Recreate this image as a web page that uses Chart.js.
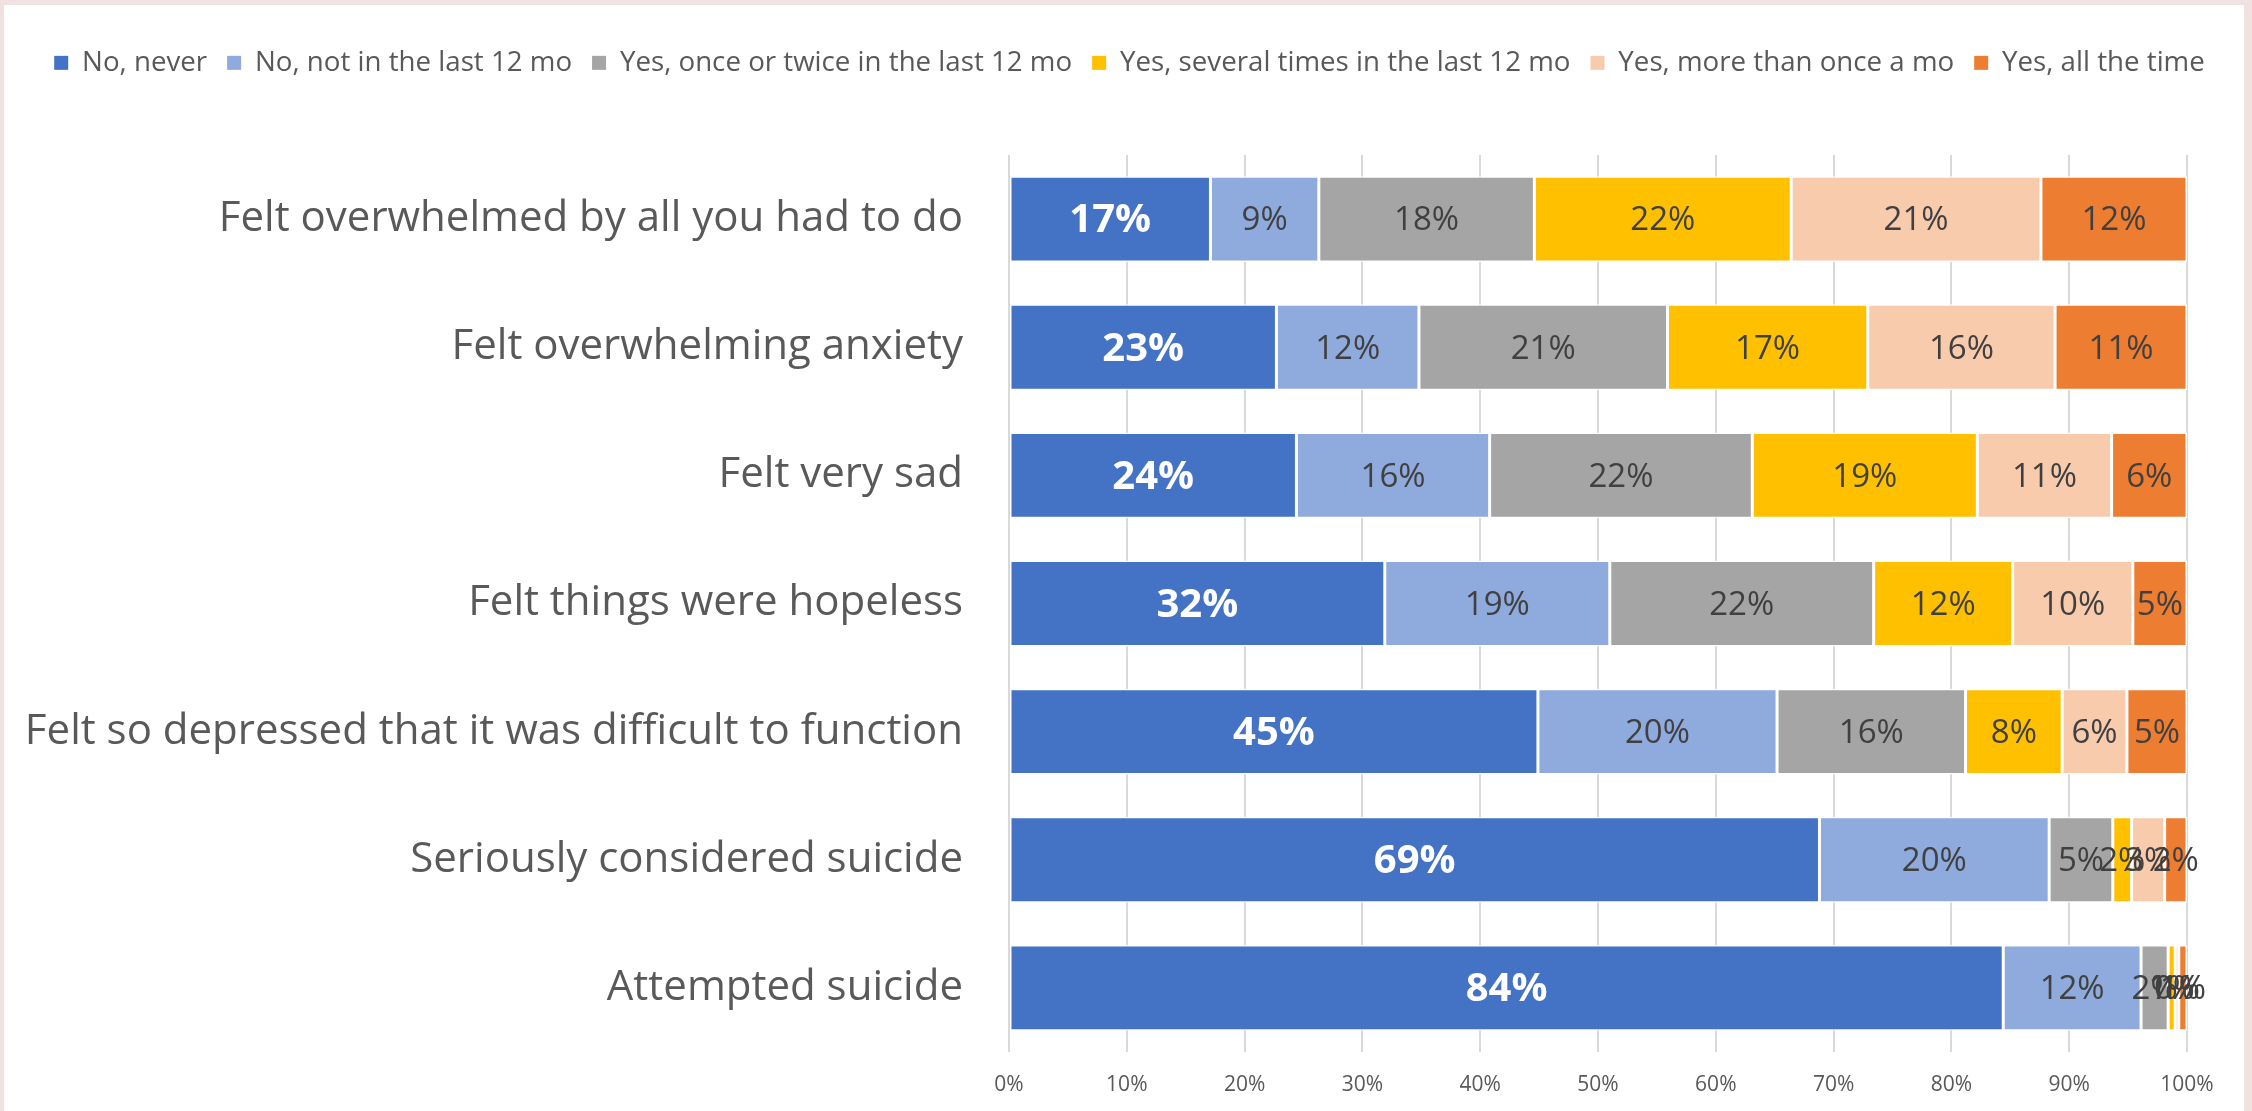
<!DOCTYPE html>
<html><head><meta charset="utf-8">
<script src="https://cdn.jsdelivr.net/npm/chart.js@4.4.1/dist/chart.umd.min.js"></script>
<style>
html,body{margin:0;padding:0;background:#F1E2E2;width:2252px;height:1111px;overflow:hidden}
#wrap{position:absolute;left:4px;top:5px;width:2240px;height:1106px;background:#fff}
canvas{display:block}
</style></head><body>
<div id="wrap"><canvas id="c" width="2240" height="1106"></canvas></div>
<script>
const categories = [
  "Felt overwhelmed by all you had to do",
  "Felt overwhelming anxiety",
  "Felt very sad",
  "Felt things were hopeless",
  "Felt so depressed that it was difficult to function",
  "Seriously considered suicide",
  "Attempted suicide"
];
const seriesNames = [
  "No, never",
  "No, not in the last 12 mo",
  "Yes, once or twice in the last 12 mo",
  "Yes, several times in the last 12 mo",
  "Yes, more than once a mo",
  "Yes, all the time"
];
const neverVals       = [17.1, 22.7, 24.4, 31.9, 44.9, 68.8, 84.4];
const notLast12Vals   = [9.2, 12.1, 16.4, 19.1, 20.3, 19.5, 11.7];
const onceTwiceVals   = [18.3, 21.1, 22.3, 22.4, 16.0, 5.4, 2.3];
const severalVals     = [21.8, 17.0, 19.1, 11.8, 8.2, 1.6, 0.6];
const monthlyVals     = [21.2, 15.9, 11.4, 10.2, 5.5, 2.8, 0.3];
const allTimeVals     = [12.4, 11.2, 6.4, 4.6, 5.1, 1.9, 0.7];
const xTickValues     = [0, 10, 20, 30, 40, 50, 60, 70, 80, 90, 100];

const colors = ["#4472C4", "#8FAADC", "#A5A5A5", "#FFC000", "#F8CBAD", "#ED7D31"];
const seriesValues = [neverVals, notLast12Vals, onceTwiceVals, severalVals, monthlyVals, allTimeVals];

const legendSpacer = {
  id: 'legendSpacer',
  afterInit(chart) {
    const lg = chart.legend;
    if (!lg) return;
    const f = lg.fit;
    lg.fit = function () { f.call(this); this.height = 126; };
  }
};

const barLabels = {
  id: 'barLabels',
  afterDatasetsDraw(chart) {
    const ctx = chart.ctx;
    chart.data.datasets.forEach((ds, di) => {
      const meta = chart.getDatasetMeta(di);
      meta.data.forEach((bar, i) => {
        const v = ds.data[i];
        const p = bar.getProps(['x', 'y', 'base'], true);
        const cx = (p.x + p.base) / 2;
        ctx.save();
        ctx.font = di === 0 ? 'bold 40px "Open Sans"' : '33px "Open Sans"';
        ctx.fillStyle = di === 0 ? '#FFFFFF' : '#404040';
        ctx.textAlign = 'center';
        ctx.textBaseline = 'middle';
        ctx.fillText(Math.round(v) + '%', cx, p.y + 2);
        ctx.restore();
      });
    });
  }
};

function build() {
  const datasets = seriesNames.map((name, i) => ({
    label: name,
    data: seriesValues[i],
    backgroundColor: colors[i],
    borderColor: '#FFFFFF',
    borderWidth: 1.5,
    borderSkipped: false,
    categoryPercentage: 1,
    barPercentage: 0.67
  }));
  new Chart(document.getElementById('c'), {
    type: 'bar',
    data: { labels: categories, datasets },
    plugins: [legendSpacer, barLabels],
    options: {
      indexAxis: 'y',
      responsive: false,
      animation: false,
      devicePixelRatio: 1,
      layout: { padding: { top: 24, right: 0, bottom: 0, left: 11 } },
      plugins: {
        tooltip: { enabled: false },
        legend: {
          position: 'top',
          labels: {
            font: { family: 'Open Sans', size: 27.7 },
            color: '#595959',
            boxWidth: 14,
            boxHeight: 14,
            padding: 20,
            generateLabels: (chart) => chart.data.datasets.map((d, i) => ({
              text: d.label, fillStyle: d.backgroundColor, strokeStyle: d.backgroundColor,
              lineWidth: 0, hidden: false, datasetIndex: i, fontColor: '#595959'
            }))
          }
        }
      },
      scales: {
        x: {
          stacked: true,
          min: 0, max: 100,
          afterBuildTicks: (s) => { s.ticks = xTickValues.map(v => ({ value: v })); },
          afterFit: (s) => { s.paddingRight = 57; s.paddingLeft = 0; s.height = 59; },
          ticks: {
            callback: (v) => v + '%',
            font: { family: 'Open Sans', size: 21 },
            color: '#595959',
            padding: 20,
            maxRotation: 0
          },
          grid: { color: '#D9D9D9', lineWidth: 2, drawTicks: false },
          border: { display: false }
        },
        y: {
          stacked: true,
          afterFit: (s) => { s.width = 994; s.paddingTop = 0; s.paddingBottom = 0; },
          ticks: {
            font: { family: 'Open Sans', size: 42 },
            color: '#595959',
            padding: 38
          },
          grid: { display: false },
          border: { display: false }
        }
      }
    }
  });
}

Promise.all([
  document.fonts.load('28px "Open Sans"'),
  document.fonts.load('bold 40px "Open Sans"')
]).then(build, build);
</script>
</body></html>
